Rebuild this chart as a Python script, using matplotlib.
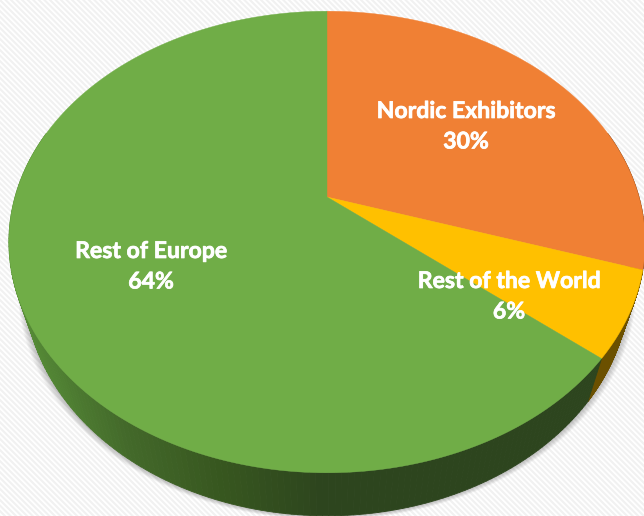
import numpy as np
import matplotlib
matplotlib.use("Agg")
import matplotlib.pyplot as plt
import matplotlib.patheffects as pe
from matplotlib.colors import LinearSegmentedColormap
from matplotlib.patches import Rectangle

# clockwise from 12 o'clock
labels = ["Nordic Exhibitors", "Rest of the World", "Rest of Europe"]
shares = [30, 6, 64]
colors = ["#F08034", "#FFC000", "#70AD47"]
side_colors = ["#7A4019", "#6B5000", "#2D451E"]
label_pos = [(466, 110), (509, 280), (151, 250)]

# pie geometry in pixels, perspective tilt k
cx, cy = 327, 197
rx, ry = 312, 222
k = 0.195
depth = 43
shrink = 0.95

plt.rcParams['font.family'] = ['Lato', 'DejaVu Sans']

def rim(theta):
    u, v = np.sin(theta), np.cos(theta)
    w = 1 + k * v
    return cx + rx * u / w, cy - ry * v / w

def lower_rim(theta):
    x, y = rim(theta)
    return cx + shrink * (x - cx), y + depth

fig = plt.figure(figsize=(6.44, 5.16), dpi=100)
ax = fig.add_axes([0, 0, 1, 1])
ax.set_xlim(0, 644)
ax.set_ylim(516, 0)
ax.axis("off")

# faint striped backdrop
plt.rcParams['hatch.linewidth'] = 1.5
ax.add_patch(Rectangle((0, 0), 644, 516, facecolor="white", edgecolor="#F1F1F1",
                       hatch="\\\\\\\\\\\\", lw=0, zorder=0))

# soft shadow under the side wall
t = np.linspace(0, 2 * np.pi, 400)
for i in range(1, 9):
    x, y = lower_rim(t)
    ax.fill(cx + (x - cx) * (1 + i * 0.0028), y + i * 0.5, color="#555555",
            alpha=0.05, lw=0, zorder=1)

edges = np.cumsum([0] + shares) / sum(shares) * 2 * np.pi
side_grad = LinearSegmentedColormap.from_list(
    "side", ["#558A36", "#43692A", "#37561F", "#2D451E", "#2D451E"])

# side walls first, only the front half shows
for i in range(len(shares)):
    th = np.linspace(edges[i], edges[i + 1], 240)
    for a, b in zip(th[:-1], th[1:]):
        if np.cos(a) > 0.3 and np.cos(b) > 0.3:
            continue
        xt, yt = rim(np.array([a, b]))
        xb, yb = lower_rim(np.array([b, a]))
        if i == 2:
            c = side_grad(np.clip((xt[0] - 25) / 400, 0, 1))
        else:
            c = side_colors[i]
        ax.fill(np.r_[xt, xb], np.r_[yt, yb], color=c, ec=c, lw=0.6, zorder=2)

# top faces
for i in range(len(shares)):
    th = np.linspace(edges[i], edges[i + 1], 300)
    x, y = rim(th)
    ax.fill(np.r_[cx, x], np.r_[cy, y], color=colors[i], lw=0.3, zorder=3)

halo = [pe.withStroke(linewidth=0.5, foreground="white")]
for name, val, (tx, ty) in zip(labels, shares, label_pos):
    ax.text(tx, ty + 1.5, name, color="white", fontsize=16.6, fontweight="bold",
            ha="center", va="center", zorder=4, path_effects=halo)
    ax.text(tx, ty + 32, f"{val}%", color="white", fontsize=16.6, fontweight="bold",
            ha="center", va="center", zorder=4, path_effects=halo)

fig.savefig("out.png", dpi=100)
